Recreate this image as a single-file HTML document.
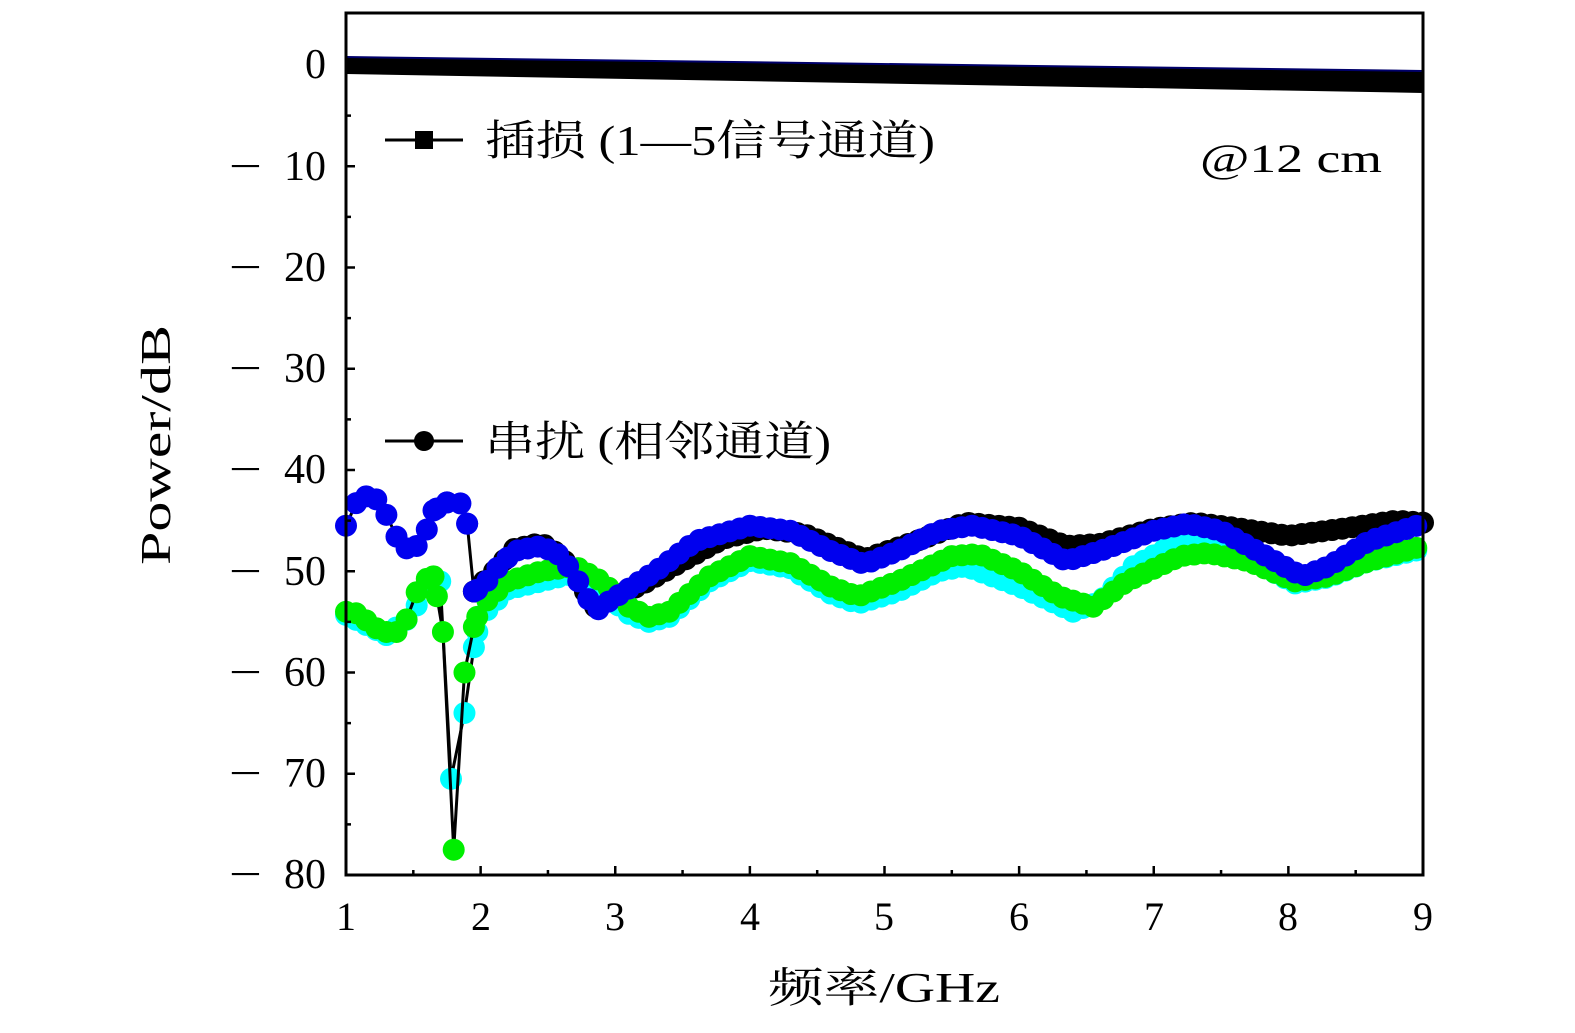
<!DOCTYPE html>
<html><head><meta charset="utf-8"><style>
html,body{margin:0;padding:0;background:#fff;}
svg{display:block;}
text{font-family:"Liberation Serif","Noto Serif CJK SC",serif;fill:#000;}
</style></head><body>
<svg id="s" width="1575" height="1033" viewBox="0 0 1575 1033" xmlns="http://www.w3.org/2000/svg">
<rect width="1575" height="1033" fill="#fff"/>
<polygon points="346,57 1423,71 1423,93 346,74" fill="#000"/>
<line x1="346" y1="57" x2="1423" y2="71" stroke="#00006a" stroke-width="2"/>
<g id="series"></g>
<rect x="346" y="13" width="1077" height="862" fill="none" stroke="#000" stroke-width="3"/>
<g id="ticks" stroke="#000" stroke-width="2.5"></g>
<g font-size="42" text-anchor="end">
<text x="326" y="78">0</text>
<text x="326" y="180">10</text>
<text x="326" y="281">20</text>
<text x="326" y="382">30</text>
<text x="326" y="483">40</text>
<text x="326" y="585">50</text>
<text x="326" y="686">60</text>
<text x="326" y="787">70</text>
<text x="326" y="888">80</text>
</g>
<g font-size="42">
<text x="229" y="180" textLength="33" lengthAdjust="spacingAndGlyphs">−</text>
<text x="229" y="281" textLength="33" lengthAdjust="spacingAndGlyphs">−</text>
<text x="229" y="382" textLength="33" lengthAdjust="spacingAndGlyphs">−</text>
<text x="229" y="483" textLength="33" lengthAdjust="spacingAndGlyphs">−</text>
<text x="229" y="585" textLength="33" lengthAdjust="spacingAndGlyphs">−</text>
<text x="229" y="686" textLength="33" lengthAdjust="spacingAndGlyphs">−</text>
<text x="229" y="787" textLength="33" lengthAdjust="spacingAndGlyphs">−</text>
<text x="229" y="888" textLength="33" lengthAdjust="spacingAndGlyphs">−</text>
</g>
<g font-size="40" text-anchor="middle">
<text x="346" y="930">1</text><text x="481" y="930">2</text><text x="615" y="930">3</text>
<text x="750" y="930">4</text><text x="884" y="930">5</text><text x="1019" y="930">6</text>
<text x="1154" y="930">7</text><text x="1288" y="930">8</text><text x="1423" y="930">9</text>
</g>
<text x="768" y="1002" font-size="42" textLength="232" lengthAdjust="spacingAndGlyphs">频率/GHz</text>
<text transform="translate(170,565) rotate(-90)" font-size="42" textLength="240" lengthAdjust="spacingAndGlyphs">Power/dB</text>
<line x1="385" y1="140" x2="463" y2="140" stroke="#000" stroke-width="3"/>
<rect x="415" y="131" width="18" height="18" fill="#000"/>
<text x="485" y="155" font-size="42" textLength="450" lengthAdjust="spacingAndGlyphs">插损 (1—5信号通道)</text>
<line x1="385" y1="441" x2="463" y2="441" stroke="#000" stroke-width="3"/>
<circle cx="424" cy="441" r="10" fill="#000"/>
<text x="485" y="456" font-size="42" textLength="346" lengthAdjust="spacingAndGlyphs">串扰 (相邻通道)</text>
<text x="1200" y="172" font-size="40" textLength="182" lengthAdjust="spacingAndGlyphs">@12 cm</text>
</svg>
<script>
var NS="http://www.w3.org/2000/svg";
function X(f){return 346+(f-1)*134.625;}
function Y(d){return 65-d*10.125;}
var t=document.getElementById('ticks');
function ln(a,b,c,d){var l=document.createElementNS(NS,'line');l.setAttribute('x1',a);l.setAttribute('y1',b);l.setAttribute('x2',c);l.setAttribute('y2',d);t.appendChild(l);}
for(var f=1;f<=9.01;f+=0.5){var L=(Math.abs(f-Math.round(f))<0.01)?9:5;ln(X(f),875,X(f),875-L);}
for(var d=0;d>=-80;d-=5){var L=(d%10==0)?9:5;ln(346,Y(d),346+L,Y(d));}
var blue=[[1,-45.5],[1.05,-43.5],[1.15,-42.6],[1.25,-43],[1.32,-45],[1.4,-47.3],[1.48,-48],[1.57,-47],[1.65,-44],[1.75,-43.2],[1.85,-43.3],[1.9,-45.3],[1.95,-52],[2.02,-51.5],[2.1,-50],[2.25,-48],[2.45,-47.5],[2.6,-48.5],[2.75,-51.5],[2.85,-54],[2.95,-53],[3.3,-50],[3.6,-47],[4.0,-45.5],[4.3,-46],[4.6,-48],[4.85,-49.3],[5.1,-48],[5.4,-46],[5.65,-45.5],[6.0,-46.5],[6.35,-49],[6.6,-48],[7.0,-46],[7.25,-45.3],[7.5,-46],[7.9,-49],[8.1,-50.5],[8.3,-49.5],[8.6,-47],[9.0,-45.3]];
var black=[[1.95,-52],[2.1,-50],[2.25,-47.8],[2.45,-47.2],[2.6,-48.5],[2.75,-51.5],[2.85,-53.5],[3.0,-52.5],[3.2,-51.3],[3.5,-49],[3.8,-46.8],[4.1,-45.8],[4.4,-46.3],[4.85,-48.8],[5.2,-47.2],[5.6,-45.2],[6.0,-45.7],[6.35,-47.5],[6.6,-47.3],[7.0,-45.8],[7.3,-45.2],[7.6,-45.7],[8.0,-46.5],[8.4,-45.8],[8.8,-45],[9.0,-45.2]];
var green=[[1,-54],[1.1,-54.2],[1.2,-55.5],[1.3,-56],[1.4,-56],[1.48,-54],[1.55,-51],[1.65,-50.5],[1.72,-56],[1.8,-77.5],[1.88,-60],[1.95,-55.5],[2.0,-53.5],[2.2,-51],[2.45,-50],[2.7,-49.5],[2.9,-51],[3.1,-53.5],[3.25,-54.5],[3.4,-54],[3.7,-50.5],[4.0,-48.5],[4.3,-49.2],[4.6,-51.5],[4.8,-52.5],[5.1,-51],[5.5,-48.5],[5.7,-48.3],[6.0,-50],[6.3,-52.5],[6.55,-53.5],[6.8,-51],[7.2,-48.5],[7.4,-48.2],[7.7,-49],[8.05,-51],[8.3,-50.5],[8.6,-49],[9.0,-47.5]];
var cyan=[[1,-54.3],[1.3,-56.3],[1.48,-54.5],[1.6,-51.5],[1.7,-51],[1.78,-70.5],[1.88,-64],[1.95,-57.5],[2.0,-54.5],[2.2,-51.8],[2.45,-51],[2.7,-50.2],[2.9,-52],[3.1,-54.2],[3.25,-55],[3.4,-54.5],[3.7,-51],[4.0,-49],[4.3,-49.7],[4.6,-52.2],[4.8,-53.2],[5.1,-52],[5.4,-50],[5.6,-49.5],[6.0,-51.5],[6.4,-54],[6.6,-53],[6.85,-49.5],[7.2,-47],[7.4,-47],[7.7,-48.8],[8.05,-51.2],[8.3,-50.6],[8.6,-49],[9.0,-47.8]];
function interp(k,f){if(f<=k[0][0])return k[0][1];for(var i=0;i<k.length-1;i++){if(f<=k[i+1][0]){var a=k[i],b=k[i+1];var u=(f-a[0])/(b[0]-a[0]);return a[1]+(b[1]-a[1])*u;}}return k[k.length-1][1];}
var g=document.getElementById('series');
function draw(k,col,start){
 var pts=[];
 var fs=[];for(var f=start;f<=9.0001;f+=0.075)fs.push(f);
 k.forEach(function(p){if(p[0]>1.6&&p[0]<2.0)fs.push(p[0]);});
 fs=fs.filter(function(f){return !(f>1.68&&f<1.97&&!k.some(function(p){return Math.abs(p[0]-f)<1e-9;}));});
 fs.sort(function(a,b){return a-b;});
 fs.forEach(function(f){pts.push([X(f),Y(interp(k,f))]);});
 var pl=document.createElementNS(NS,'polyline');
 pl.setAttribute('points',pts.map(function(p){return p[0].toFixed(1)+','+p[1].toFixed(1);}).join(' '));
 pl.setAttribute('fill','none');pl.setAttribute('stroke','#000');pl.setAttribute('stroke-width','3');g.appendChild(pl);
 pts.forEach(function(p){var c=document.createElementNS(NS,'circle');c.setAttribute('cx',p[0]);c.setAttribute('cy',p[1]);c.setAttribute('r',11);c.setAttribute('fill',col);g.appendChild(c);});
}
draw(black,'#000',1.95);
draw(cyan,'#00ffff',1);
draw(green,'#00ee00',1);
draw(blue,'#0000ee',1);
</script>
</body></html>
